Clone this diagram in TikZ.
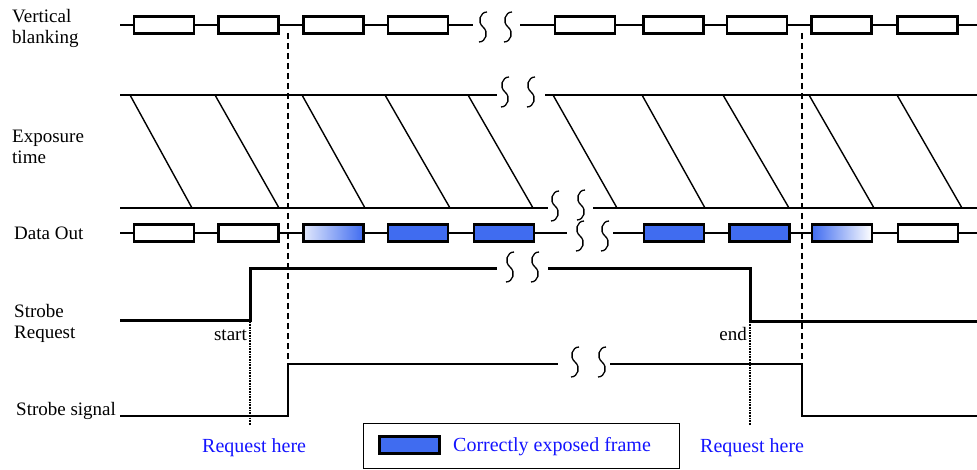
\documentclass[tikz,border=0pt]{standalone}
\usepackage{fontspec}
\setmainfont{Liberation Serif}
\definecolor{expblue}{RGB}{64,108,240}
\definecolor{gradlight}{RGB}{225,232,252}
\definecolor{reqblue}{RGB}{20,20,255}
\begin{document}
\begin{tikzpicture}[x=1pt,y=-1pt,
  lbl/.style={anchor=base west,inner sep=0pt,font=\fontsize{19}{21}\selectfont},
  lblr/.style={anchor=base east,inner sep=0pt,font=\fontsize{19}{21}\selectfont},
  bluetxt/.style={anchor=base west,inner sep=0pt,text=reqblue,font=\fontsize{20}{22}\selectfont},
  frame/.style={draw,line width=2.8pt,minimum width=60pt,minimum height=17.5pt,inner sep=0pt,fill=white},
  good/.style={frame,fill=expblue},
  gradin/.style={frame,left color=gradlight,right color=expblue},
  gradout/.style={frame,left color=expblue,right color=white},
  wire/.style={line width=2.2pt},
  expline/.style={line width=1.7pt},
  diag/.style={line width=1.4pt},
  reqline/.style={line width=3pt},
  sigline/.style={line width=2.4pt},
  guide/.style={line width=1.6pt,dash pattern=on 6pt off 4pt},
  fineguide/.style={line width=2pt,dash pattern=on 0.8pt off 0.8pt},
  brk/.pic={\draw[line width=1.3pt] (4,-15) .. controls (-3,-15) and (-6,-5) .. (0,0) .. controls (6,5) and (3,15) .. (-4,15);}
]
\useasboundingbox (0,0) rectangle (977,470);

% labels
\node[lbl] (l1) at (12,23) {Vertical};
\node[lbl] (l2) at (12,44) {blanking};
\node[lbl] (l3) at (12,143) {Exposure};
\node[lbl] (l4) at (12,164) {time};
\node[lbl] (l5) at (14,240) {Data Out};
\node[lbl] (l6) at (14,317) {Strobe};
\node[lbl] (l7) at (14,338) {Request};
\node[lbl] (l8) at (16,415) {Strobe signal};
\node[lblr] (lstart) at (247,340) {start};
\node[lblr] (lend) at (747,340) {end};
\node[bluetxt] (rq1) at (202,452) {Request here};
\node[bluetxt] (rq2) at (700,452) {Request here};

% guide lines
\coordinate (g1t) at (288,33);
\coordinate (g2t) at (802,33);
\draw[guide] (g1t) -- (288,364);
\draw[guide] (g2t) -- (802,364);
\draw[fineguide] (250,322) -- (250,425);
\draw[fineguide] (750,322) -- (750,425);

% vertical blanking
\foreach \n/\x in {1/164,2/248.5,3/333.5,4/418,5/585,6/673.5,7/757,8/841.5,9/927.5}
  \node[frame] (vb\n) at (\x,25) {};
\coordinate (vbs) at (120,25);
\coordinate (vbb1) at (473,25);
\coordinate (vbb2) at (520,25);
\coordinate (vbe) at (977,25);
\draw[wire] (vbs) -- (vb1.west);
\foreach \a/\b in {1/2,2/3,3/4,5/6,6/7,7/8,8/9}
  \draw[wire] (vb\a.east) -- (vb\b.west);
\draw[wire] (vb4.east) -- (vbb1);
\draw[wire] (vbb2) -- (vb5.west);
\draw[wire] (vb9.east) -- (vbe);
\pic at (483,27) {brk};
\pic at (508,27) {brk};

% exposure
\draw[expline] (120,95) -- (497,95);
\draw[expline] (545,95) -- (977,95);
\draw[expline] (120,208) -- (548,208);
\draw[expline] (593,208) -- (977,208);
\foreach \t/\b in {130/192,215/279,302/365,385/450,468/533,553/617,642/705,723/789,809/874,897/962}
  \draw[diag] (\t,95) -- (\b,208);
\pic at (505,92) {brk};
\pic at (531,92) {brk};
\pic at (555,206) {brk};
\pic at (581,205) {brk};

% data out
\foreach \n/\x/\s in {1/164/frame,2/248.5/frame,3/333.5/gradin,4/418/good,5/504/good,6/674/good,7/759.5/good,8/842/gradout,9/928/frame}
  \node[\s] (do\n) at (\x,233) {};
\coordinate (dos) at (120,233);
\coordinate (dob1) at (567,233);
\coordinate (dob2) at (613,233);
\coordinate (doe) at (977,233);
\draw[wire] (dos) -- (do1.west);
\foreach \a/\b in {1/2,2/3,3/4,4/5,6/7,7/8,8/9}
  \draw[wire] (do\a.east) -- (do\b.west);
\draw[wire] (do5.east) -- (dob1);
\draw[wire] (dob2) -- (do6.west);
\draw[wire] (do9.east) -- (doe);
\pic at (580,236) {brk};
\pic at (605,236) {brk};

% strobe request
\draw[reqline] (120,320) -- (250,320) -- (250,269) -- (497,269);
\draw[reqline] (548,269) -- (750,269) -- (750,321) -- (977,321);
\pic at (510,267) {brk};
\pic at (535,267) {brk};

% strobe signal
\draw[sigline] (120,416) -- (288,416) -- (288,364) -- (558,364);
\draw[sigline] (610,364) -- (802,364) -- (802,416) -- (977,416);
\pic at (575,362) {brk};
\pic at (602,362) {brk};

% legend
\node[draw,line width=1.3pt,minimum width=316pt,minimum height=45pt,inner sep=0pt] (legend) at (521.5,446) {};
\node[good] (sw) at (409.5,445) {};
\node[bluetxt] (lt) at (453,451) {Correctly exposed frame};
\end{tikzpicture}
\end{document}
